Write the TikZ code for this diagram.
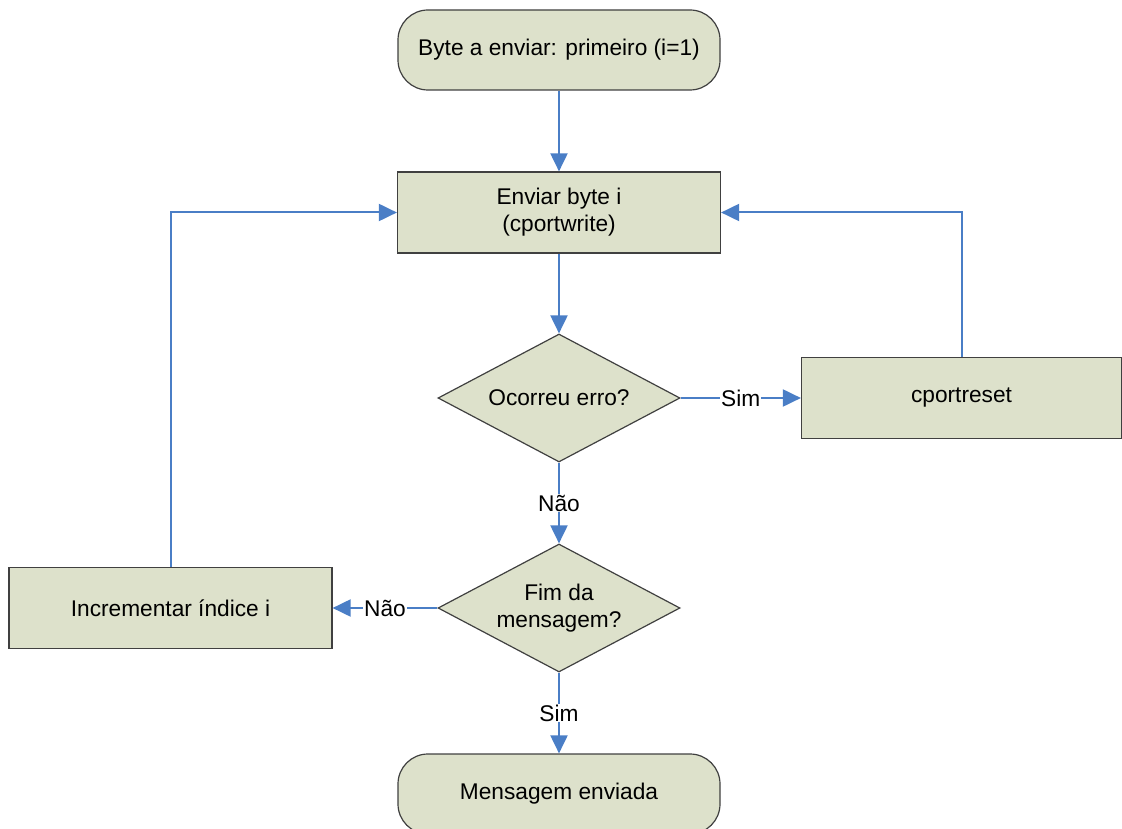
\documentclass[tikz,border=0pt]{standalone}
\usepackage{fontspec}
\setmainfont{Liberation Sans}
\usetikzlibrary{shapes.geometric,arrows.meta}
\definecolor{boxfill}{HTML}{DDE1CB}
\definecolor{boxline}{HTML}{404040}
\definecolor{flow}{HTML}{4A7EC6}
\tikzset{
  base/.style={draw=boxline, line width=1.2pt, fill=boxfill, inner sep=0pt,
    font=\fontsize{22.7}{27}\selectfont, align=center},
  terminal/.style={base, rectangle, rounded corners=30pt, minimum width=322pt, minimum height=80pt},
  process/.style={base, rectangle, minimum width=323pt, minimum height=81pt},
  decision/.style={base, diamond, aspect=1.89, minimum width=242pt, minimum height=128pt},
  flowline/.style={draw=flow, line width=2pt, -{Triangle[length=18pt,width=17pt]}},
  lbl/.style={fill=white, inner sep=1pt, font=\fontsize{22.7}{26}\selectfont}
}
\begin{document}
\begin{tikzpicture}[x=1pt,y=-1pt]
  \useasboundingbox (0,0) rectangle (1122,829);
  \clip (0,0) rectangle (1122,829);

  \node[terminal] (start) at (559,50) {Byte a enviar: primeiro (i=1)};
  \node[process] (send) at (559,212.5) {Enviar byte i\\(cportwrite)};
  \node[decision] (err) at (559,398) {Ocorreu erro?};
  \node[process, minimum width=320pt] (reset) at (961.5,398) {cportreset};
  \node[decision] (last) at (559,608) {Fim da\\mensagem?};
  \node[process] (inc) at (170.5,608) {Incrementar índice i};
  \node[terminal] (done) at (559,794) {Mensagem enviada};

  \draw[flowline] (start) -- (send);
  \draw[flowline] (send) -- (err);
  \draw[flowline] (err) -- node[lbl] {Sim} (reset);
  \draw[flowline] (err) -- node[lbl] {Não} (last);
  \draw[flowline] (last) -- node[lbl] {Não} (inc);
  \draw[flowline] (last) -- node[lbl] {Sim} (done);
  \draw[flowline] (inc.north) |- (send.west);
  \draw[flowline] (reset.north) |- (send.east);
\end{tikzpicture}
\end{document}
